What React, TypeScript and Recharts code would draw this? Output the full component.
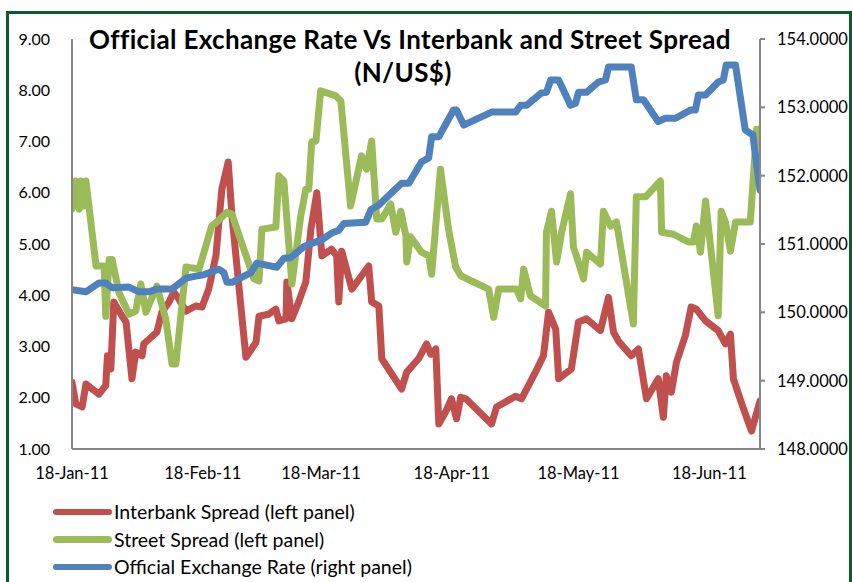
import React from 'react';
import { LineChart, Line, XAxis, YAxis, Legend } from 'recharts';

// x values are day-of-year 2011 (0 = 1-Jan-11)
const tickDays = [17, 48, 76, 107, 137, 168];
const tickLabels = ['18-Jan-11', '18-Feb-11', '18-Mar-11', '18-Apr-11', '18-May-11', '18-Jun-11'];
const leftTicks = [1, 2, 3, 4, 5, 6, 7, 8, 9];
const rightTicks = [148, 149, 150, 151, 152, 153, 154];

const seriesNames = ['Interbank Spread (left panel)', 'Street Spread (left panel)', 'Official Exchange Rate (right panel)'];
const seriesColors = ['#C0504D', '#9BBB59', '#4F81BD'];

const interbankDays = [17, 17.9, 19.4, 20.3, 23.4, 25, 25.4, 26.2, 26.9, 28.8, 29.8, 31.2, 32.1, 33.6, 34, 35.9, 37.1, 38.3, 40, 41.1, 41.9, 44, 46.3, 47.8, 49.4, 51.1, 52.5, 54, 54.9, 58.2, 60.6, 61.3, 63.6, 65.3, 66, 67.7, 67.9, 69.1, 70.7, 72.4, 73.6, 75, 76.2, 78.5, 79.7, 80.2, 80.9, 83.3, 85.6, 87.3, 88, 89.7, 90.4, 95.1, 96.3, 99.1, 101, 102, 103.2, 103.9, 105.5, 106.9, 108.1, 109.1, 110.3, 116.4, 117.6, 122.1, 123.5, 126.8, 128.7, 129.9, 131.6, 132.3, 135.3, 137, 138.9, 142.2, 144.1, 145.3, 146.5, 149.5, 151.2, 153.1, 155.9, 157.1, 157.8, 159, 160.2, 162.3, 163.7, 164.9, 167.1, 170.1, 171.8, 173, 173.7, 176.1, 178, 180];
const interbankValues = [2.3, 1.88, 1.82, 2.27, 2.07, 2.24, 2.82, 2.56, 3.87, 3.6, 3.48, 2.37, 2.89, 2.82, 3.05, 3.19, 3.28, 3.67, 3.87, 4.06, 3.98, 3.69, 3.79, 3.77, 4.12, 4.77, 6.07, 6.6, 5.55, 2.79, 3.08, 3.59, 3.63, 3.73, 3.5, 3.54, 4.26, 3.54, 3.87, 4.26, 5.29, 6.0, 4.77, 4.9, 4.77, 3.87, 4.86, 4.12, 4.38, 4.57, 3.87, 3.79, 2.76, 2.17, 2.5, 2.76, 3.05, 2.85, 2.95, 1.49, 1.72, 1.98, 1.59, 2.01, 1.98, 1.49, 1.82, 2.03, 1.98, 2.5, 2.82, 3.67, 3.34, 2.37, 2.56, 3.48, 3.54, 3.31, 3.96, 3.28, 3.1, 2.82, 2.95, 1.98, 2.37, 1.62, 2.43, 2.11, 2.69, 3.21, 3.77, 3.73, 3.5, 3.31, 3.05, 3.24, 2.37, 1.78, 1.35, 1.94];

const streetDays = [17, 17.9, 18.7, 19.1, 19.8, 20.3, 22.7, 24.6, 25, 25.8, 26.5, 28.1, 30.5, 32.1, 33.3, 34.5, 37.1, 39.2, 40.7, 41.6, 44, 47.1, 50.1, 51.3, 53.7, 54.9, 60.1, 61.3, 62, 65.3, 66, 67.2, 69.1, 71.2, 72.4, 73.1, 73.8, 74.8, 75.9, 79.5, 80.7, 83, 85.6, 86.8, 88, 89.2, 90.4, 92.5, 93.7, 94.9, 96.1, 96.3, 97.2, 99.8, 101.5, 102.2, 104.3, 106.2, 107.9, 109.1, 115.7, 116.9, 118.1, 122.3, 123.3, 124, 125.6, 129.2, 129.4, 130.6, 131.8, 133, 135.1, 135.8, 136.5, 138.2, 138.9, 142.2, 142.9, 144.6, 146, 150, 150.7, 152.9, 156.4, 156.7, 159.5, 163, 164.2, 164.9, 165.9, 167.1, 170.1, 170.8, 171.8, 173, 174.2, 177.7, 179.2, 180];
const streetValues = [5.68, 6.23, 5.68, 6.23, 5.74, 6.23, 4.57, 4.57, 3.59, 4.7, 4.7, 4.06, 3.63, 3.69, 4.22, 3.67, 4.18, 3.54, 2.66, 2.66, 4.55, 4.51, 5.35, 5.43, 5.62, 5.58, 4.32, 4.28, 5.29, 5.33, 6.33, 6.23, 4.22, 5.55, 6.07, 6.07, 6.99, 7.01, 7.99, 7.89, 7.79, 5.74, 6.72, 6.46, 7.01, 5.49, 5.49, 5.78, 5.23, 5.64, 5.16, 4.65, 5.14, 4.84, 4.77, 4.41, 6.46, 5.29, 4.55, 4.38, 4.12, 3.57, 4.12, 4.12, 3.93, 4.51, 3.99, 3.79, 5.23, 5.64, 4.65, 5.23, 5.98, 4.94, 4.77, 4.32, 4.84, 4.61, 5.64, 5.35, 5.43, 3.44, 5.92, 5.92, 6.23, 5.23, 5.19, 5.04, 5.04, 5.35, 4.84, 5.84, 3.6, 5.64, 5.43, 4.86, 5.43, 5.43, 7.24, 7.24];

const officialDays = [17, 20.3, 23.4, 25, 26.5, 30.5, 32.9, 35.2, 37.1, 40.7, 44, 46.3, 48.2, 49.9, 51.8, 53, 53.7, 54.9, 59.4, 60.8, 65.5, 67.2, 68.8, 71.9, 73.8, 76.2, 78.5, 80.2, 81.4, 86.6, 87.8, 89.7, 93.2, 95.1, 96.8, 99.8, 101.5, 102.2, 103.9, 107.4, 108.1, 109.8, 116.4, 122.1, 123.3, 124.7, 128.2, 129.4, 130.4, 132.3, 135.1, 136.3, 137, 138.9, 141.7, 143.4, 144.1, 149.5, 150.7, 152.4, 155.9, 157.6, 160, 163.5, 164.7, 165.4, 167.1, 170.1, 171.3, 172, 174.2, 176.5, 177.7, 178.3, 180];
const officialValues = [150.33, 150.3, 150.43, 150.43, 150.36, 150.37, 150.3, 150.3, 150.34, 150.34, 150.5, 150.53, 150.55, 150.59, 150.63, 150.58, 150.44, 150.44, 150.58, 150.72, 150.66, 150.79, 150.8, 150.96, 151.01, 151.06, 151.16, 151.2, 151.3, 151.32, 151.5, 151.57, 151.78, 151.89, 151.89, 152.2, 152.26, 152.57, 152.57, 152.96, 152.96, 152.74, 152.93, 152.93, 153.03, 153.03, 153.21, 153.22, 153.4, 153.4, 153.03, 153.06, 153.22, 153.22, 153.37, 153.4, 153.59, 153.59, 153.11, 153.11, 152.79, 152.84, 152.84, 152.96, 152.96, 153.18, 153.18, 153.37, 153.4, 153.62, 153.62, 152.67, 152.62, 152.6, 151.79];

const toRows = (days: number[], values: number[]) => days.map((d, i) => ({ day: d, value: values[i] }));
const interbankData = toRows(interbankDays, interbankValues);
const streetData = toRows(streetDays, streetValues);
const officialData = toRows(officialDays, officialValues);

const FONT = 'Lato, "Open Sans", sans-serif';
const AXIS = '#868686';

const LegendContent = () => (
  <div style={{ fontFamily: FONT, fontSize: 19.5, color: '#000' }}>
    {seriesNames.map((name, i) => (
      <div key={name} style={{ display: 'flex', alignItems: 'center', height: 27.5 }}>
        <span style={{ display: 'inline-block', width: 59, height: 6.5, borderRadius: 3.5, background: seriesColors[i] }} />
        <span style={{ marginLeft: 2, whiteSpace: 'nowrap' }}>{name}</span>
      </div>
    ))}
  </div>
);

const titleStyle: React.CSSProperties = {
  position: 'absolute',
  left: 0,
  textAlign: 'center',
  fontFamily: FONT,
  fontWeight: 700,
  fontSize: 26,
  letterSpacing: 0.35,
  lineHeight: '34px',
  color: '#000',
  whiteSpace: 'nowrap',
};

export default function App() {
  return (
    <div style={{ position: 'absolute', left: 0, top: 0, width: 852, height: 582, overflow: 'hidden', background: '#fff' }}>
      <div style={{ position: 'absolute', left: 6, top: 11, width: 846, height: 620, border: '3px solid #0D5A2E', boxSizing: 'border-box' }} />
      <LineChart width={852} height={582} margin={{ top: 39, right: 0, bottom: 102, left: 0 }}>
        <XAxis
          dataKey="day"
          type="number"
          domain={[17, 180]}
          allowDataOverflow
          ticks={tickDays}
          tickFormatter={(v: number) => tickLabels[tickDays.indexOf(v)]}
          tickLine={false}
          axisLine={{ stroke: AXIS, strokeWidth: 2 }}
          tickMargin={12}
          height={31}
          tick={{ fill: '#000', fontSize: 16.5, fontFamily: FONT }}
        />
        <YAxis
          yAxisId="left"
          orientation="left"
          domain={[1, 9]}
          ticks={leftTicks}
          tickFormatter={(v: number) => v.toFixed(2)}
          width={72}
          tickLine={false}
          tickMargin={16}
          axisLine={{ stroke: AXIS, strokeWidth: 2 }}
          tick={{ fill: '#000', fontSize: 16, fontFamily: FONT }}
        />
        <YAxis
          yAxisId="right"
          orientation="right"
          domain={[148, 154]}
          ticks={rightTicks}
          tickFormatter={(v: number) => v.toFixed(4)}
          width={92}
          tickSize={5}
          tickMargin={12}
          tickLine={{ stroke: AXIS, strokeWidth: 2 }}
          axisLine={{ stroke: AXIS, strokeWidth: 2 }}
          tick={{ fill: '#000', fontSize: 16.5, fontFamily: FONT }}
        />
        <Legend
          layout="horizontal"
          verticalAlign="middle"
          align="center"
          content={LegendContent}
          wrapperStyle={{ position: 'absolute', left: 53, top: 498, width: 420 }}
        />
        <Line yAxisId="left" data={interbankData} dataKey="value" name={seriesNames[0]} stroke={seriesColors[0]} strokeWidth={7} dot={false} strokeLinejoin="round" strokeLinecap="round" isAnimationActive={false} type="linear" />
        <Line yAxisId="left" data={streetData} dataKey="value" name={seriesNames[1]} stroke={seriesColors[1]} strokeWidth={7} dot={false} strokeLinejoin="round" strokeLinecap="round" isAnimationActive={false} type="linear" />
        <Line yAxisId="right" data={officialData} dataKey="value" name={seriesNames[2]} stroke={seriesColors[2]} strokeWidth={7} dot={false} strokeLinejoin="round" strokeLinecap="round" isAnimationActive={false} type="linear" />
      </LineChart>
      <div style={{ ...titleStyle, width: 820, top: 22 }}>
        Official Exchange Rate Vs Interbank and Street Spread
      </div>
      <div style={{ ...titleStyle, width: 806, top: 55 }}>
        (N/US$)
      </div>
    </div>
  );
}
